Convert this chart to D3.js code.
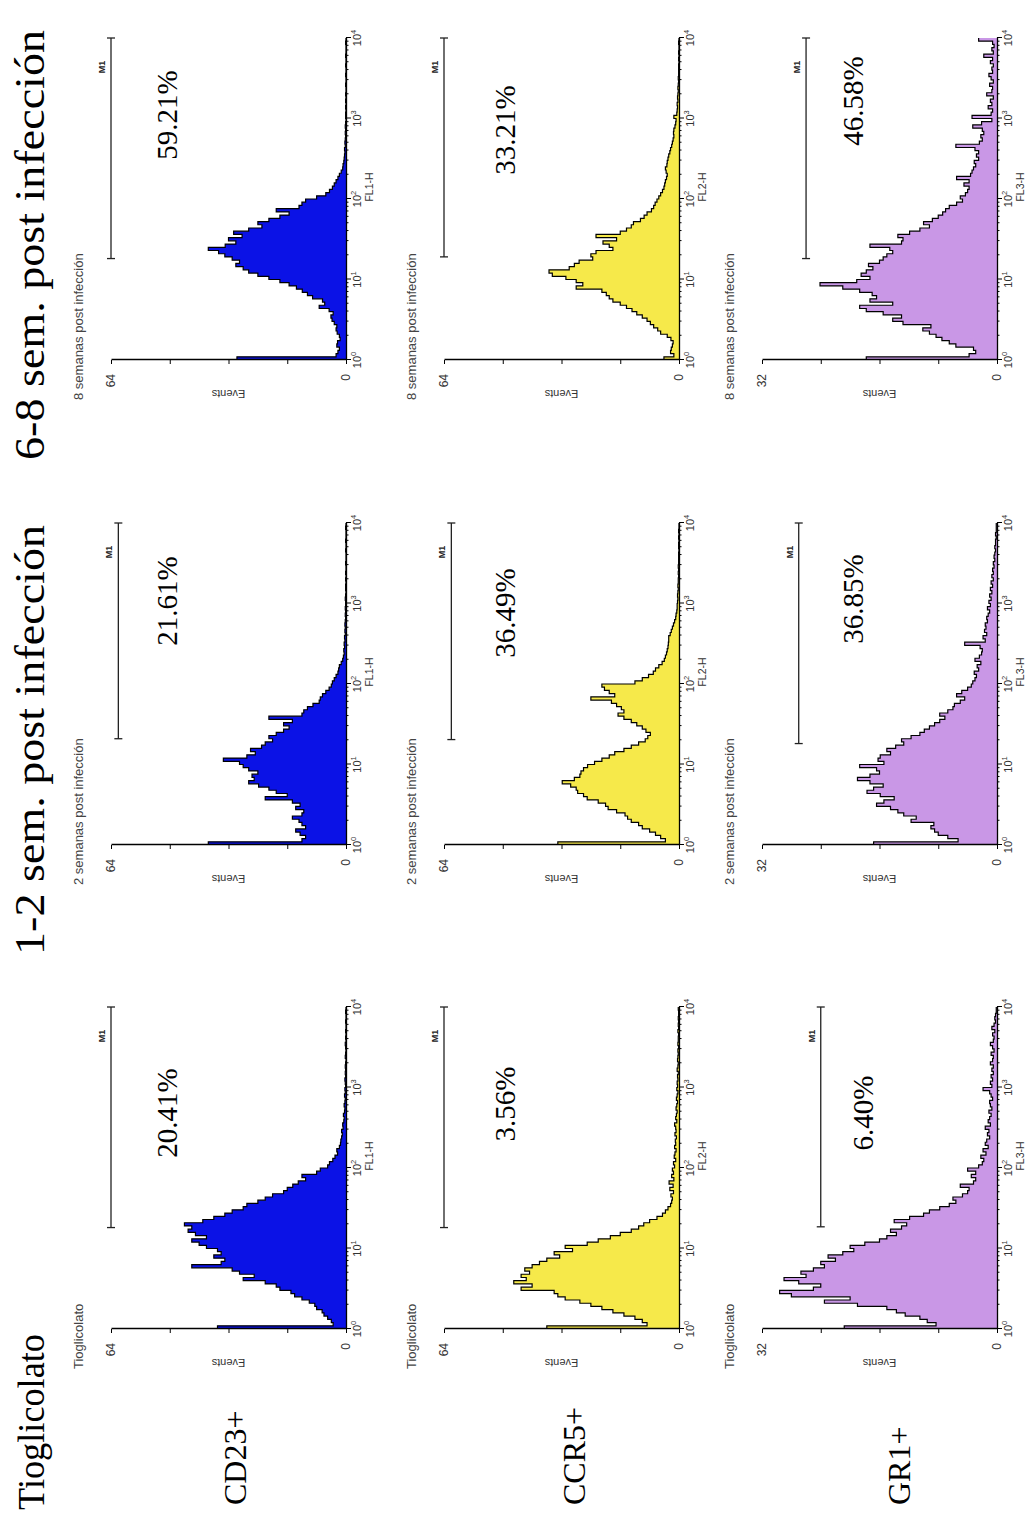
<!DOCTYPE html>
<html><head><meta charset="utf-8">
<script src="https://cdn.jsdelivr.net/npm/d3@7"></script>
<style>body{margin:0;background:#fff}</style>
</head><body>
<svg id="fig" width="1033" height="1519"></svg>
<script>
// ---------------- DATA ----------------
const markers = ["CD23+", "CCR5+", "GR1+"];
const conditions = ["Tioglicolato", "1-2 sem. post infección", "6-8 sem. post infección"];
const panelTitles = ["Tioglicolato", "2 semanas post infección", "8 semanas post infección"];
const channels = ["FL1-H", "FL2-H", "FL3-H"];
const eventsMax = [64, 64, 32];
const decadeExponents = ["0", "1", "2", "3", "4"];
const percentages = [
  ["20.41%", "21.61%", "59.21%"],
  ["3.56%", "36.49%", "33.21%"],
  ["6.40%", "36.85%", "46.58%"]
];
const gateStart = [
  [18.2, 20.9, 18.2],
  [18.2, 20.4, 19.1],
  [18.6, 18.2, 18.2]
];
const gateEnd = 10000;
const gateLevel = [
  [64, 62, 64],
  [64, 62, 64],
  [24, 27, 26]
];
// 100 log-spaced channels from 10^0 to 10^4 (events per channel)
const cd23_tio = [35,3.5,4,5,6,6.5,8,8.5,10,12, 14,15,18,19,22,28,25,29,31,42, 34,33,36,34,35,38,40,42,38,41,
  43,42,44,39,36,33,31,28,27,24, 22,20,17,16,14.5,13,11,12,8,7, 5,4.5,3.6,3,2.3,2.5,1.8,1.5,1.4,1.2,
  1,1.2,0.8,0.9,0.6,0.5,0.7,0.4,0.3,0.5, 0.3,0.2,0.4,0.2,0.3,0.1,0.2,0.3,0.1,0.2, 0.1,0.2,0.1,0,0.2,0.1,0,0.1,0.2,0,
  0.1,0,0.1,0,0,0.1,0,0,0.1,0];
const cd23_w2 = [37.5,12,11,12.5,13.7,11,12,12.8,14.6,12, 11.5,13.7,12.5,14.6,22,16,19,21,23.8,26.5, 25,25.6,24,26.5,28,29,33.4,27,24.7,26,
  23,22,20,21,19,17,15.5,17,14.6,21, 12,11.5,10.5,9,7.3,7,6.4,5.5,4.6,4, 3.7,3.2,2.7,2.2,2,1.8,1.3,0.9,0.7,0.5,
  0.6,0.4,0.5,0.3,0.4,0.2,0.3,0.2,0.3,0.2, 0.1,0.2,0.1,0.2,0.1,0.1,0.2,0.1,0,0.1, 0.1,0,0.1,0,0.1,0,0,0.1,0,0,
  0,0.1,0,0,0.1,0,0,0,0.1,0];
const cd23_w8 = [29.7,2.7,2.2,1.8,2.5,2.3,1.6,1.8,2.4,2.7, 2.5,3.2,3.8,4.1,3.5,4.6,7.3,5.8,6.4,9.1, 10.5,11.9,13.5,15.5,18,21,24,26.5,28,30,
  29,31,33,34.7,37.5,32.9,30,32,28.3,30.6, 26.5,22.9,24,21,18,15.5,19,12.8,12,11, 8,5.5,4.5,3.7,3.2,2.7,2.2,1.8,1.3,0.9,
  0.8,0.6,0.5,0.4,0.3,0.4,0.2,0.3,0.2,0.1, 0.2,0.1,0.2,0.1,0,0.1,0.1,0,0.1,0, 0.1,0,0.1,0,0,0.1,0,0,0.1,0,
  0,0.1,0,0,0.1,0,0,0,0.1,0];
const ccr5_tio = [36,8.7,10,12,15,18,21,24,27,31, 33,34,43,40,45,41.6,43,40.7,42,40, 38,36,32.5,34,29,31,25,22,18.7,16,
  13,11,9.6,8,6,4.5,3.7,3,2.3,2, 1.8,2.2,1.5,2.5,1.6,2.7,1.4,2,1.5,1.8, 1.2,1.5,0.9,1.3,1.1,0.8,1.2,0.9,1,0.7,
  1.1,0.8,0.9,1.2,0.6,0.9,0.7,0.5,0.8,0.6, 0.4,0.7,0.5,0.3,0.6,0.4,0.5,0.3,0.4,0.2, 0.5,0.3,0.2,0.4,0.3,0.2,0.3,0.1,0.3,0.2,
  0.2,0.1,0.3,0.1,0.2,0.1,0.2,0.1,0.1,0.2];
const ccr5_w2 = [33,3.7,5,6.4,8,10,11,13,14,14.7, 17,19.3,20,22,25,26,27.6,28,29.5,31.8, 28.5,27,26.7,26,24.9,23,21,19,17.5,15,
  13,11,9.2,8.5,7.8,9,10,11.5,13,15, 16.6,15,15.7,17,18.4,24,17.5,19,20.3,21, 12,10,8.3,7,6.4,5.5,4.6,4,3.7,3.4,
  3.2,3,2.9,2.8,2.8,2.4,2.1,1.8,1.5,1.2, 0.9,0.8,0.6,0.5,0.5,0.4,0.3,0.4,0.3,0.2, 0.3,0.2,0.2,0.1,0.2,0.1,0.2,0.1,0.1,0.1,
  0.1,0,0.1,0.1,0,0.1,0,0.1,0,0];
const ccr5_w8 = [4.1,1.4,2.3,2.1,1.8,1.6,2.2,3.2,5,5.8, 6.9,7.8,8.7,10,11.5,12.8,14.3,16,18,19, 19.8,21,28,26.2,28,30.8,34.5,35.4,29.9,28.5,
  27.2,23.5,24,22.6,18,19,20.7,17,22.6,16, 14.3,13,12.4,10.5,9.5,8.7,7.5,6.9,6.5,6, 5.5,5,4.5,4.1,3.9,3.7,3.4,3.2,3.5,3.7,
  3.3,3.2,3,2.8,2.5,2.3,2,1.8,1.6,1.4, 1.5,1.4,1.1,0.9,0.8,1.4,0.6,0.5,0.4,0.5, 0.3,0.4,0.3,0.2,0.3,0.2,0.1,0.2,0.1,0.1,
  0.1,0.1,0,0.1,0,0.1,0,0,0.1,0];
const gr1_tio = [20.8,8.3,9.5,10.5,12.5,13.7,15,19,23.5,20, 28,29.6,25,24,27,29,26,26.7,25,23.5, 24,22,23,21,19.5,20,18,16,15,13.7,
  14.5,13,12.3,14,11.9,10,9.2,7.8,6.5,5.6, 6,4.7,4,3.8,5,3.2,2.9,3.5,2.9,4, 2.5,2,1.8,2.2,1.5,1.9,1.2,1.6,1.4,1.0,
  1.3,1.1,1.6,0.9,1.2,1.0,0.8,1.1,0.7,0.9, 1.0,0.6,0.8,1.0,1.9,0.7,0.9,0.6,0.8,0.5, 0.7,0.5,0.9,0.6,0.5,0.8,0.4,0.6,0.9,0.5,
  0.4,0.6,0.3,0.7,0.4,0.2,0.3,0.2,0.1,0.1];
const gr1_w2 = [16.8,5.3,6.7,8,8.5,9,8.6,11.7,11,12.7, 13.5,14.5,16.4,15.4,14,15.9,17.7,16.8,15.5,17.3, 19,17.3,16,16.4,18.7,15.4,16.2,15.9,14.5,15,
  13.8,12.7,13,11.7,10.5,9.9,9.2,8.5,7.8,7.1, 7.8,6.7,6,5.8,5,4.4,5.5,4.8,4,3.5, 3.3,3,2.8,3.1,2.5,2.7,2.2,3,2.4,2.1,
  2,2.3,4.4,1.6,1.9,1.4,1.7,1.5,1.6,1.3, 1.4,1.2,1.0,1.3,0.9,1.1,0.8,1.0,0.7,0.9, 0.6,0.8,0.5,0.7,0.5,0.6,0.4,0.5,0.3,0.4,
  0.3,0.2,0.3,0.2,0.2,0.1,0.2,0.1,0.1,0.1];
const gr1_w8 = [17.8,3.8,2.9,3.2,5.6,6.5,7.5,8.3,9.2,10.1, 9,12.8,14.2,13,15.5,17.8,18.7,14.2,17.3,16.4, 17,18.7,21,24.1,19.1,17.3,18.5,17.8,16.9,17.5,
  16,15.5,15,14.2,14.6,17.3,13,12.8,13.5,11.9, 10.5,9.2,10,8.8,8,7.4,7,6.5,5.5,4.7, 5,4.3,4,3.8,4.5,3.8,5.5,3.6,3.4,3.2,
  2.9,3.1,2.5,2.8,2.5,3,5.6,2.4,2,2.2, 1.8,2,3.3,2.1,0.7,3.4,0.8,0.6,1.2,0.7, 0.9,0.5,1.4,0.7,0.6,1.0,0.5,0.8,1.1,0.6,
  0.7,0.5,0.9,0.6,1.8,0.5,0.7,0.4,0.6,2.5];
const histograms = [
  [cd23_tio, cd23_w2, cd23_w8],
  [ccr5_tio, ccr5_w2, ccr5_w8],
  [gr1_tio, gr1_w2, gr1_w8]
];

// ---------------- LAYOUT / STYLE ----------------
const fills = ["#0b12e6", "#f6e94a", "#c997e6"];
const colLeft = [190, 674, 1159];   // in unrotated frame (u)
const rowTop = [111, 444, 762];     // in unrotated frame (v)
const W = 322, H = 235;
const pctPos = [ // [center offset from plot left, baseline offset from plot top]
  [[216, 66], [244, 66], [245, 66]],
  [[225, 71], [232, 71], [230, 71]],
  [[216, 111], [246, 101], [259, 101]]
];
const serif = "'Liberation Serif','Times New Roman',serif";
const sans = "'Liberation Sans',Arial,sans-serif";

const svg = d3.select("#fig");
svg.append("rect").attr("width", 1033).attr("height", 1519).attr("fill", "#fff");
// whole figure is rotated 90deg counter-clockwise
const root = svg.append("g").attr("transform", "translate(0,1519) rotate(-90)");

// column headings
const titleX = [9, 564, 1059];
const titleLen = [176, 430, 430];
const titleSize = [38, 43, 43];
conditions.forEach((t, i) => {
  root.append("text").attr("x", titleX[i]).attr("y", 44)
    .attr("font-family", serif).attr("font-size", titleSize[i]).attr("fill", "#000")
    .attr("textLength", titleLen[i]).attr("lengthAdjust", "spacingAndGlyphs")
    .text(t);
});
// row labels
const rowLabelY = [246, 585, 910];
markers.forEach((m, i) => {
  root.append("text").attr("x", 14).attr("y", rowLabelY[i])
    .attr("font-family", serif).attr("font-size", 32).attr("fill", "#000").text(m);
});

const nBins = 100;
const edges = d3.range(nBins + 1).map(i => Math.pow(10, 4 * i / nBins));

for (let r = 0; r < 3; r++) {
  for (let c = 0; c < 3; c++) {
    const g = root.append("g").attr("transform", `translate(${colLeft[c]},${rowTop[r]})`);
    const x = d3.scaleLog().domain([1, 10000]).range([0, W]);
    const y = d3.scaleLinear().domain([0, eventsMax[r]]).range([H, 0]);
    const vals = histograms[r][c];
    const pts = vals.map((v, i) => ({ lo: edges[i], v }));
    pts.push({ lo: edges[nBins], v: vals[nBins - 1] });

    const area = d3.area().x(d => x(d.lo)).y0(H).y1(d => y(d.v)).curve(d3.curveStepAfter);
    const line = d3.line().x(d => x(d.lo)).y(d => y(d.v)).curve(d3.curveStepAfter);
    g.append("path").attr("d", area(pts)).attr("fill", fills[r]);
    g.append("path").attr("d", line(pts)).attr("fill", "none").attr("stroke", "#000")
      .attr("stroke-width", 1.2).attr("stroke-linejoin", "miter");

    // x axis (log)
    const majors = [1, 10, 100, 1000, 10000];
    const minors = [];
    for (let k = 0; k < 4; k++) for (let m = 2; m <= 9; m++) minors.push(m * Math.pow(10, k));
    g.append("g").attr("transform", `translate(0,${H})`)
      .call(d3.axisBottom(x).tickValues(majors).tickSize(5).tickSizeOuter(0).tickFormat(""));
    g.append("g").attr("transform", `translate(0,${H})`)
      .call(d3.axisBottom(x).tickValues(minors).tickSize(2.5).tickSizeOuter(0).tickFormat(""))
      .call(s => s.select(".domain").remove());
    g.selectAll(".domain").attr("stroke", "#000").attr("stroke-width", 1.3);
    g.selectAll(".tick line").attr("stroke", "#000").attr("stroke-width", 1);
    majors.forEach((m, i) => {
      const t = g.append("text").attr("x", x(m)).attr("y", H + 15)
        .attr("text-anchor", "middle").attr("font-family", sans).attr("font-size", 11).attr("fill", "#333");
      t.append("tspan").text("10");
      t.append("tspan").attr("dy", -5).attr("font-size", 7.5).text(decadeExponents[i]);
    });
    g.append("text").attr("x", x(100) + 12).attr("y", H + 27).attr("text-anchor", "middle")
      .attr("font-family", sans).attr("font-size", 10.5).attr("fill", "#333").text(channels[r]);

    // y axis
    const mx = eventsMax[r];
    g.append("g").call(d3.axisLeft(y).tickValues([0, mx / 4, mx / 2, 3 * mx / 4, mx]).tickSize(4)
      .tickSizeOuter(0).tickPadding(10).tickFormat(d => (d === 0 || d === mx) ? String(d) : ""))
      .call(s => {
        s.select(".domain").attr("stroke", "#000").attr("stroke-width", 1.3);
        s.selectAll(".tick line").attr("stroke", "#000");
        s.selectAll(".tick text").attr("font-family", sans).attr("font-size", 12).attr("fill", "#333");
      });
    g.append("text").attr("transform", `translate(-30,${H / 2}) rotate(-90)`).attr("text-anchor", "middle")
      .attr("font-family", sans).attr("font-size", 11).attr("fill", "#333").text("Events");

    // panel title (small)
    g.append("text").attr("x", -40).attr("y", -28).attr("font-family", sans).attr("font-size", 13)
      .attr("fill", "#444").text(panelTitles[c]);

    // M1 gate marker
    const gy = y(gateLevel[r][c]);
    const gx0 = x(gateStart[r][c]), gx1 = x(gateEnd);
    g.append("line").attr("x1", gx0).attr("x2", gx1).attr("y1", gy).attr("y2", gy)
      .attr("stroke", "#222").attr("stroke-width", 1.3);
    [gx0, gx1].forEach(px => g.append("line").attr("x1", px).attr("x2", px).attr("y1", gy - 4).attr("y2", gy + 4)
      .attr("stroke", "#222").attr("stroke-width", 1.3));
    g.append("text").attr("x", gx1 - 29).attr("y", gy - 6).attr("text-anchor", "middle")
      .attr("font-family", sans).attr("font-size", 9).attr("font-weight", "bold").attr("fill", "#222").text("M1");

    // percentage
    g.append("text").attr("x", pctPos[r][c][0]).attr("y", pctPos[r][c][1]).attr("text-anchor", "middle")
      .attr("font-family", serif).attr("font-size", 29).attr("fill", "#000").text(percentages[r][c]);
  }
}
</script>
</body></html>
